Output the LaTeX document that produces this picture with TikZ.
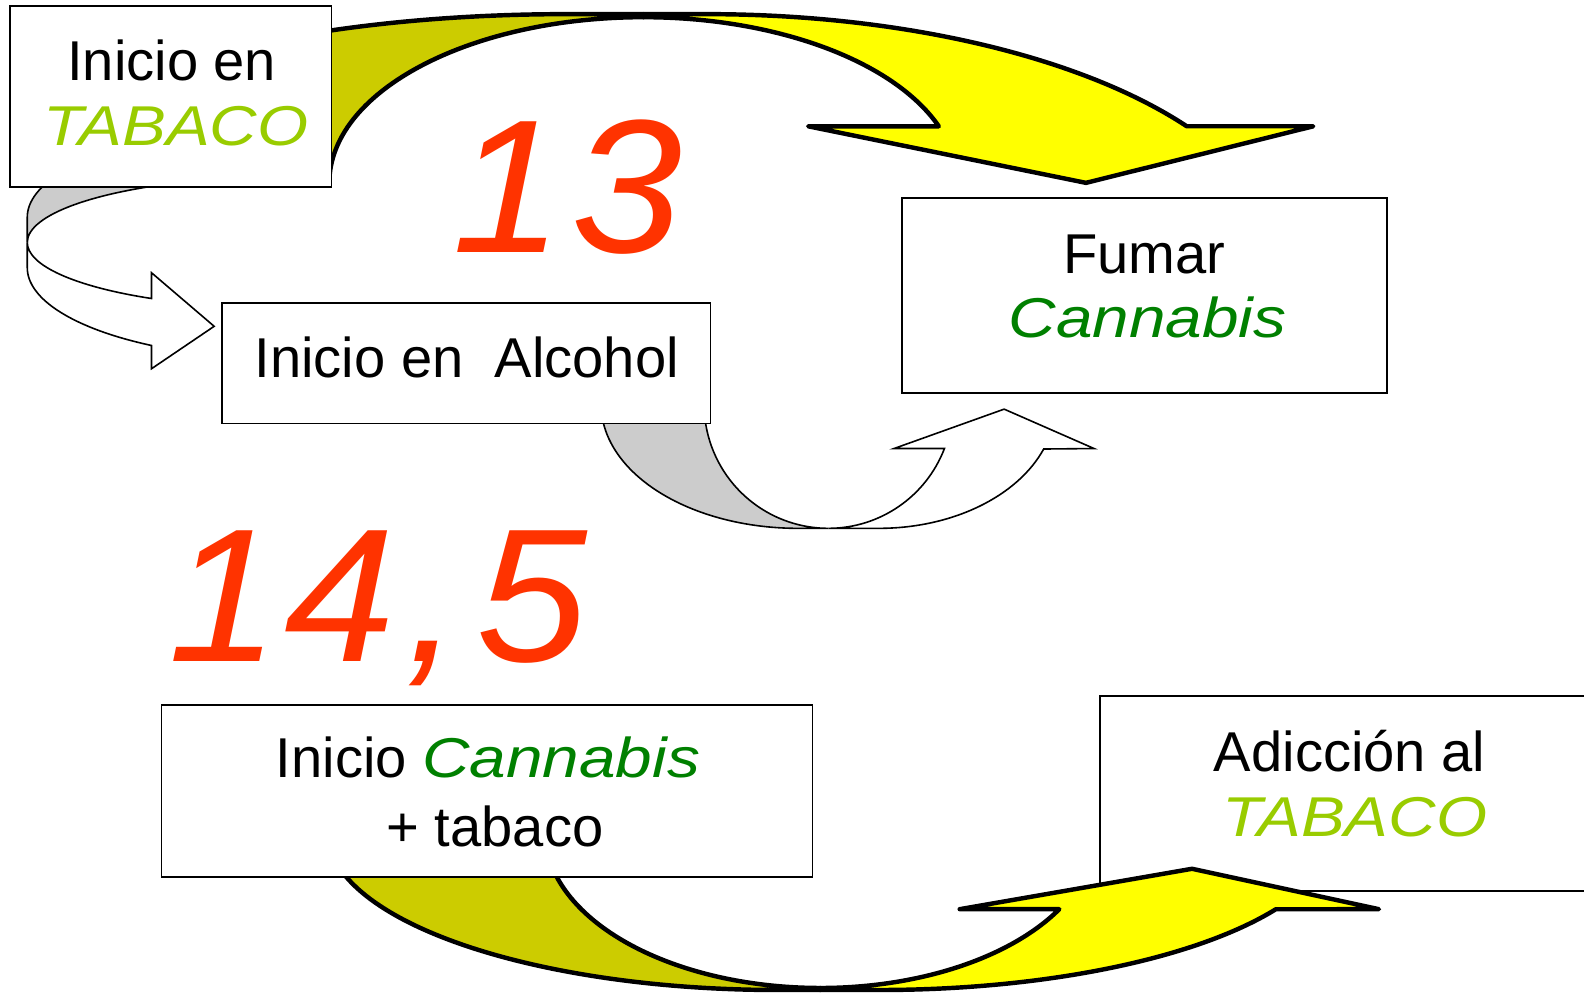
\documentclass[tikz,border=0pt]{standalone}
\usepackage{fontspec}
\setmainfont{Liberation Sans}
\newfontfamily\wideitfont{Liberation Sans}[ItalicFeatures={FakeStretch=1.17}]
\newfontfamily\numfont{Liberation Sans}[ItalicFeatures={FakeStretch=1.05}]
\usetikzlibrary{calc}
\definecolor{dkyel}{HTML}{CCCC00}
\definecolor{yel}{HTML}{FFFF00}
\definecolor{gry}{HTML}{CCCCCC}
\definecolor{tabgreen}{HTML}{99CC00}
\definecolor{cangreen}{HTML}{008000}
\definecolor{numred}{HTML}{FF3300}
\tikzset{
  box/.style={draw=black, fill=white, line width=0.45pt, inner sep=0pt},
  thickarrow/.style={draw=black, line width=1.25pt, line join=round},
  thinarrow/.style={draw=black, line width=0.45pt},
  lbl/.style={anchor=base, inner sep=0pt, font=\fontsize{15.8}{19}\selectfont},
  lblit/.style={anchor=base, inner sep=0pt, font=\fontsize{15.8}{19}\selectfont\wideitfont\itshape},
  num/.style={anchor=base, inner sep=0pt, text=numred, font=\fontsize{53.5}{60}\selectfont\numfont\itshape}
}
\begin{document}
\begin{tikzpicture}[x=0.01cm, y=-0.01cm]
\useasboundingbox (0,0) rectangle (1568,984);
\fill[white] (0,0) rectangle (1568,984);
\clip (0,0) rectangle (1568,984);

% box drawn beneath the bottom arrow
\node[box, minimum width=5.11cm, minimum height=1.93cm] (adic) at (1344.5,785.5) {};

% top curved arrow (Tabaco -> Cannabis)
\filldraw[thickarrow, fill=dkyel] ($(560,185)+(200:548 and 171)$) arc[start angle=200, end angle=270, x radius=548, y radius=171] -- (637,14) -- (637,17) arc[start angle=270, end angle=183, x radius=311, y radius=164] -- cycle;
\filldraw[thickarrow, fill=yel] (637,17) -- (637,14) -- (700,14) arc[start angle=270, end angle=326.7, x radius=568, y radius=246] -- (1300,125) -- (1075,181) -- (800,125) -- (929.3,125) arc[start angle=340.03, end angle=270, x radius=311, y radius=164] -- cycle;

% gray arrow Tabaco -> Alcohol
\filldraw[thinarrow, fill=gry] ($(287,215)+(240:260 and 90)$) arc[start angle=240, end angle=180, x radius=260, y radius=90] -- (27,240) arc[start angle=180, end angle=250, x radius=256, y radius=65] -- cycle;
\filldraw[thinarrow, fill=white] (27,240) -- (27,265) arc[start angle=180, end angle=121.8, x radius=260, y radius=90.6] -- (150,365) -- (212,323) -- (150,270) -- (150,295.5) arc[start angle=121.3, end angle=180, x radius=256, y radius=65] -- cycle;

% gray arrow Alcohol -> Cannabis
\filldraw[thinarrow, fill=gry] ($(790,400)+(190:195 and 123)$) arc[start angle=190, end angle=90, x radius=195, y radius=123] -- (820,523) arc[start angle=90, end angle=190, x radius=123, y radius=123] -- cycle;
\filldraw[thinarrow, fill=white] (820,523) -- (870,523) arc[start angle=90, end angle=21.2, x radius=175, y radius=123] -- (1083,444) -- (994,405) -- (885,444) -- (934.9,444) arc[start angle=20.96, end angle=90, x radius=123, y radius=123] -- cycle;

% bottom curved arrow (Inicio Cannabis -> Adiccion)
\filldraw[thickarrow, fill=dkyel] ($(770,823)+(195:446 and 157)$) arc[start angle=195, end angle=90, x radius=446, y radius=157] -- (812,980) -- (812,978) arc[start angle=90, end angle=190, x radius=272.6, y radius=155] -- cycle;
\filldraw[thickarrow, fill=yel] (812,978) -- (812,980) -- (870,980) arc[start angle=90, end angle=29.4, x radius=451, y radius=157] -- (1365,900) -- (1180,860) -- (950,900) -- (1048.6,900) arc[start angle=29.78, end angle=90, x radius=272.6, y radius=155] -- cycle;

% boxes
\node[box, minimum width=3.18cm, minimum height=1.79cm] (tab) at (169,95.5) {};
\node[box, minimum width=4.83cm, minimum height=1.19cm] (alc) at (461.5,359.5) {};
\node[box, minimum width=4.80cm, minimum height=1.93cm] (fum) at (1133,292.5) {};
\node[box, minimum width=6.44cm, minimum height=1.70cm] (ini) at (482,783) {};

% texts
\node[lbl] (tab1) at (170,80) {Inicio en};
\node[lblit, text=tabgreen] (tab2) at (174,144) {TABACO};
\node[lbl] (alc1) at (462,374) {Inicio en\ \ Alcohol};
\node[lbl] (fum1) at (1133,271) {Fumar};
\node[lblit, text=cangreen] (fum2) at (1136,334) {Cannabis};
\node[lbl] (ini1) at (483,770) {Inicio \textcolor{cangreen}{\wideitfont\itshape Cannabis}};
\node[lbl] (ini2) at (490,838) {+ tabaco};
\node[lbl] (adic1) at (1336,764) {Adicción al};
\node[lblit, text=tabgreen] (adic2) at (1341,828) {TABACO};

% ages
\node[num] (n13) at (562,250) {1\kern0.04em 3};
\node[num] (n145) at (374,655) {1\kern0.03em 4\kern0.05em ,\kern0.08em 5};
\end{tikzpicture}
\end{document}
